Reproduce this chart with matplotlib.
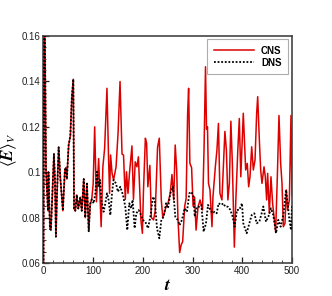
import numpy as np
import matplotlib
matplotlib.use("Agg")
import matplotlib.pyplot as plt
from matplotlib.ticker import MultipleLocator, FuncFormatter

# early part: CNS and DNS are the same curve
t_shared = [0, 1.5, 3, 5, 9, 10, 13, 15, 21, 23, 25, 27, 30.5, 34, 39, 43, 45, 47,
            50.6, 54, 57, 60, 61.5, 64, 67, 70, 74, 77, 81, 84, 87.5, 91, 94, 97]
e_shared = [0.058, 0.18, 0.158, 0.101, 0.083, 0.100, 0.075, 0.0746, 0.108, 0.097,
            0.0716, 0.089, 0.111, 0.097, 0.083, 0.101, 0.102, 0.097, 0.112,
            0.116, 0.133, 0.141, 0.084, 0.083, 0.090, 0.084, 0.089, 0.083,
            0.097, 0.080, 0.095, 0.074, 0.086, 0.088]

t_cns = [100, 103, 106.5, 111, 116, 119.5, 123, 127.7, 131, 133, 135, 138, 141,
         146, 150, 154, 158, 161, 164.6, 167, 170, 173, 178, 181, 184.6, 188,
         191, 196, 199, 201, 205, 207.5, 210, 214, 217, 221.5, 225, 229.5, 233,
         237, 240, 243, 246.5, 250.5, 255, 258.5, 262, 265, 268, 270.5, 274,
         277, 280, 284, 287, 290, 292, 294.5, 298, 301, 304, 307, 311, 315,
         320, 323, 326, 328, 330, 332, 335, 339, 341, 346, 349, 352, 355, 359,
         362, 365, 368, 371, 374, 377, 380, 384, 387, 391, 394, 397, 402,
         406.8, 410, 412.8, 415.5, 418.9, 422.2, 425.6, 428.9, 431, 434.3,
         437, 439.6, 443.7, 446.3, 449, 451, 454.4, 457.7, 461, 463.8, 467.1,
         470.5, 473.8, 477.2, 479.9, 482.6, 485.9, 488.6, 491.3, 494.7, 498,
         500]
e_cns = [0.095, 0.120, 0.087, 0.106, 0.076, 0.1024, 0.1105, 0.137, 0.1054,
         0.0907, 0.1076, 0.0995, 0.0966, 0.1024, 0.1171, 0.140, 0.108, 0.1076,
         0.088, 0.1002, 0.0907, 0.0995, 0.1116, 0.088, 0.1046, 0.1024, 0.1068,
         0.079, 0.0731, 0.0907, 0.115, 0.1127, 0.0936, 0.103, 0.080, 0.079,
         0.0833, 0.111, 0.115, 0.0878, 0.080, 0.0819, 0.0848, 0.0863, 0.0907,
         0.099, 0.0878, 0.112, 0.101, 0.080, 0.0646, 0.068, 0.0694, 0.0848,
         0.0885, 0.126, 0.137, 0.104, 0.102, 0.085, 0.089, 0.0745, 0.0848,
         0.0878, 0.0834, 0.110, 0.1465, 0.119, 0.120, 0.0951, 0.0922, 0.076,
         0.0892, 0.103, 0.1098, 0.1215, 0.0907, 0.0878, 0.1032, 0.118, 0.1098,
         0.0878, 0.0951, 0.1225, 0.1039, 0.067, 0.0878, 0.1098, 0.1237, 0.098,
         0.126, 0.101, 0.1039, 0.0936, 0.098, 0.1112, 0.101, 0.1054, 0.126,
         0.1333, 0.1142, 0.101, 0.0951, 0.1024, 0.098, 0.0878, 0.0995, 0.0819,
         0.098, 0.0863, 0.0804, 0.0738, 0.098, 0.125, 0.1039, 0.0951, 0.076,
         0.0775, 0.0922, 0.0834, 0.0878, 0.125, 0.09]

t_dns = [101, 104.3, 107.6, 111, 113.7, 116.4, 121, 124.4, 127.8, 131, 134.5,
         137.8, 141, 145.8, 149.8, 154.5, 159.9, 164.6, 168.6, 172.6, 176.6,
         179.3, 183.4, 186.7, 191.4, 194.8, 199.5, 204.9, 210.3, 215, 220.3,
         223.7, 228.4, 233, 237.1, 241.8, 246.5, 250.5, 255.2, 260.5, 265.2,
         269.9, 274, 278.6, 284, 288.7, 293.4, 297.4, 302.1, 304.2, 308.9,
         313.5, 317.6, 322.3, 327, 331, 335.7, 340.4, 344.4, 348.4, 352.4,
         357.8, 361.8, 365.8, 371.2, 375.9, 380.6, 384.6, 389.3, 394, 399.4,
         402, 408.8, 414.2, 418.9, 424.3, 428.9, 434.3, 439, 442.3, 447.7,
         452.4, 457.7, 462.4, 467.8, 472.5, 477.2, 482.6, 488, 491.3, 494.7,
         498, 500]
e_dns = [0.0863, 0.0907, 0.1002, 0.0936, 0.0966, 0.0878, 0.0826, 0.0863,
         0.0907, 0.0878, 0.0811, 0.0907, 0.0966, 0.0951, 0.0914, 0.0936, 0.090,
         0.0848, 0.0745, 0.0863, 0.0841, 0.0878, 0.0753, 0.0819, 0.0833,
         0.0819, 0.079, 0.0782, 0.0753, 0.0804, 0.0892, 0.0878, 0.0753, 0.0709,
         0.079, 0.0804, 0.0863, 0.0841, 0.0907, 0.0936, 0.0804, 0.079, 0.0767,
         0.079, 0.0841, 0.0826, 0.0907, 0.0914, 0.0892, 0.0804, 0.0848, 0.0848,
         0.0856, 0.0738, 0.0775, 0.0856, 0.0834, 0.0819, 0.0826, 0.0819, 0.0863,
         0.0856, 0.0863, 0.0848, 0.0848, 0.0834, 0.0804, 0.076, 0.0834, 0.0834,
         0.0863, 0.0775, 0.0731, 0.0775, 0.0811, 0.0819, 0.0775, 0.0782, 0.0819,
         0.0849, 0.0782, 0.0804, 0.0841, 0.0811, 0.0731, 0.079, 0.076, 0.0811,
         0.0922, 0.0863, 0.079, 0.0745, 0.085]

plt.rcParams['font.family'] = ['Liberation Sans', 'DejaVu Sans']
plt.rcParams['mathtext.fontset'] = 'stix'

fig = plt.figure(figsize=(3.32, 2.96), dpi=100)
ax = fig.add_axes([0.131, 0.1115, 0.7485, 0.7665])

ax.plot(t_shared + t_cns, e_shared + e_cns, color='#dd0000', lw=1.1,
        label='CNS', zorder=2)
ax.plot(t_shared + t_dns, e_shared + e_dns, color='black', lw=1.3,
        ls=(0, (1, 1)), label='DNS', zorder=3)

ax.set_xlim(0, 500)
ax.set_ylim(0.06, 0.16)
ax.xaxis.set_major_locator(MultipleLocator(100))
ax.xaxis.set_minor_locator(MultipleLocator(20))
ax.yaxis.set_major_locator(MultipleLocator(0.02))
ax.yaxis.set_minor_locator(MultipleLocator(0.005))
ax.yaxis.set_major_formatter(FuncFormatter(lambda v, p: '%g' % round(v, 3)))
ax.tick_params(which='both', direction='in', top=False, right=False,
               labelsize=7, colors='#222222', pad=2)
ax.tick_params(which='major', length=4, width=0.9)
ax.tick_params(which='minor', length=2, width=0.6)
for s in ax.spines.values():
    s.set_color('#444444')
    s.set_linewidth(1.2)

ax.set_xlabel(r'$\boldsymbol{t}$', fontsize=13, labelpad=1)
ax.set_ylabel(r'$\langle \boldsymbol{E} \rangle_V$', fontsize=12, labelpad=2)

leg = ax.legend(loc='upper right', fontsize=7, frameon=True, fancybox=False,
                handlelength=4.1, borderpad=0.7, labelspacing=0.2,
                handletextpad=0.7, borderaxespad=0,
                bbox_to_anchor=(0.985, 0.988))
leg.get_frame().set_edgecolor('#999999')
leg.get_frame().set_linewidth(0.8)
for txt in leg.get_texts():
    txt.set_fontweight('bold')

fig.savefig('out.png', dpi=100)
